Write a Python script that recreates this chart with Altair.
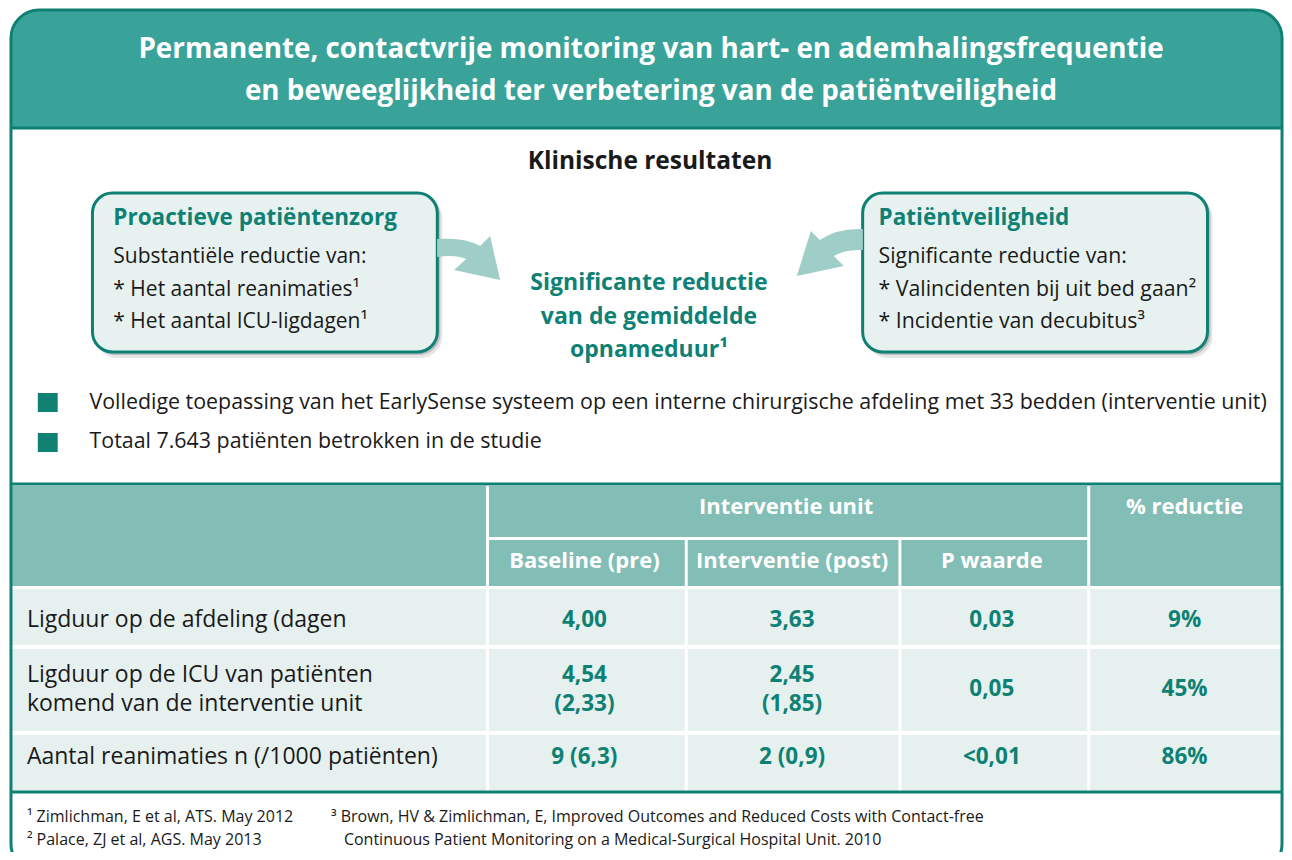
import altair as alt
import pandas as pd

# ---------------- content ----------------
TITLE_LINES = ["Permanente, contactvrije monitoring van hart- en ademhalingsfrequentie",
               "en beweeglijkheid ter verbetering van de patiëntveiligheid"]
SECTION = "Klinische resultaten"
LEFT_HEAD = "Proactieve patiëntenzorg"
LEFT_BODY = ["Substantiële reductie van:", "* Het aantal reanimaties¹", "* Het aantal ICU-ligdagen¹"]
RIGHT_HEAD = "Patiëntveiligheid"
RIGHT_BODY = ["Significante reductie van:", "* Valincidenten bij uit bed gaan²", "* Incidentie van decubitus³"]
CENTER_LINES = ["Significante reductie", "van  de gemiddelde", "opnameduur¹"]
BULLETS = ["Volledige toepassing van het EarlySense systeem op een interne chirurgische afdeling met 33 bedden (interventie unit)",
           "Totaal 7.643 patiënten betrokken in de studie"]
HEAD_TOP = ["Interventie unit", "% reductie"]
HEAD_SUB = ["Baseline (pre)", "Interventie (post)", "P waarde"]
ROW_LABELS = [["Ligduur op de afdeling (dagen"],
              ["Ligduur op de ICU  van patiënten", "komend van de interventie unit"],
              ["Aantal reanimaties n (/1000 patiënten)"]]
BASELINE = [["4,00"], ["4,54", "(2,33)"], ["9 (6,3)"]]
POST = [["3,63"], ["2,45", "(1,85)"], ["2 (0,9)"]]
PVALUE = [["0,03"], ["0,05"], ["<0,01"]]
REDUCTIE = [["9%"], ["45%"], ["86%"]]
FOOTNOTES_LEFT = ["¹ Zimlichman, E et al, ATS. May 2012", "² Palace, ZJ et al, AGS. May 2013"]
FOOTNOTES_RIGHT = ["³ Brown, HV & Zimlichman, E, Improved Outcomes and Reduced Costs with Contact-free",
                   "Continuous Patient Monitoring on a Medical-Surgical Hospital Unit. 2010"]

# ---------------- styles / layout ----------------
FONT = "Open Sans"
TEAL_DARK = "#0e8174"
TEAL_HEAD = "#3aa399"
TEAL_TABLE = "#82bdb6"
CELL_BG = "#e6f1ef"
BOX_BG = "#e7f2f0"
ARROW = "#9ecec7"
BLACK = "#1a1a1a"

# reference pixel coordinates (page margin is 8 px)
XS = alt.Scale(domain=[8, 1292], nice=False, zero=False)
YS = alt.Scale(domain=[8, 852], nice=False, zero=False, reverse=True)


def rect_layer(df, **kw):
    return alt.Chart(df).mark_rect(**kw).encode(
        x=alt.X("x:Q", scale=XS, axis=None), x2="x2:Q",
        y=alt.Y("y:Q", scale=YS, axis=None), y2="y2:Q",
        fill=alt.Fill("fill:N", scale=None),
    )


def text_layer(df, weight="normal", align="left"):
    return alt.Chart(df).mark_text(font=FONT, fontWeight=weight, align=align, baseline="middle").encode(
        x=alt.X("x:Q", scale=XS, axis=None),
        y=alt.Y("y:Q", scale=YS, axis=None),
        text="text:N",
        size=alt.Size("size:Q", scale=None),
        color=alt.Color("color:N", scale=None),
    )


def rule_layer(df, color, width):
    return alt.Chart(df).mark_rule(color=color, strokeWidth=width).encode(
        x=alt.X("x:Q", scale=XS, axis=None), x2="x2:Q",
        y=alt.Y("y:Q", scale=YS, axis=None),
    )


def arrow_path(pts, cx, cy, s):
    """Build a normalized custom SVG symbol path from an outline."""
    out = []
    for cmd, coords in pts:
        nums = [f"{(px - cx) / s:.3f},{(py - cy) / s:.3f}" for (px, py) in coords]
        out.append(cmd + " ".join(nums))
    return "".join(out) + "Z"


# ---------- background shapes ----------
white_bg = pd.DataFrame([dict(x=11, x2=1290, y=10, y2=872, fill="white")])
header_band = pd.DataFrame([dict(x=11, x2=1290, y=10, y2=128, fill=TEAL_HEAD)])

shadow_outer = pd.DataFrame([
    dict(x=96, x2=445, y=196, y2=358, fill="#000000"),
    dict(x=871, x2=1220, y=196, y2=358, fill="#000000"),
])
shadow_inner = pd.DataFrame([
    dict(x=95, x2=443, y=195, y2=355, fill="#000000"),
    dict(x=870, x2=1218, y=195, y2=355, fill="#000000"),
])
boxes = pd.DataFrame([
    dict(x=93, x2=440, y=193, y2=352, fill=BOX_BG),
    dict(x=868, x2=1215, y=193, y2=352, fill=BOX_BG),
])
bullets_sq = pd.DataFrame([
    dict(x=38, x2=58, y=393, y2=412, fill=TEAL_DARK),
    dict(x=38, x2=58, y=433, y2=452, fill=TEAL_DARK),
])

# table cells
COL_EDGES = [(12, 489), (492, 689), (692, 904), (907, 1094), (1097, 1289)]
ROW_EDGES = [(589, 645), (649, 731), (735, 791)]
cells = [
    dict(x=12, x2=489, y=486, y2=586, fill=TEAL_TABLE),
    dict(x=492, x2=1094, y=486, y2=537, fill=TEAL_TABLE),
    dict(x=1097, x2=1289, y=486, y2=586, fill=TEAL_TABLE),
]
for (a, b) in COL_EDGES[1:4]:
    cells.append(dict(x=a, x2=b, y=540, y2=586, fill=TEAL_TABLE))
for (r0, r1) in ROW_EDGES:
    for (a, b) in COL_EDGES:
        cells.append(dict(x=a, x2=b, y=r0, y2=r1, fill=CELL_BG))
cells = pd.DataFrame(cells)

teal_lines = pd.DataFrame([
    dict(x=11, x2=1290, y=128),
    dict(x=11, x2=1290, y=484),
    dict(x=11, x2=1290, y=792),
])

frame = pd.DataFrame([dict(x=11, x2=1290, y=10, y2=872, fill="white")])

# ---------- arrows (custom symbol glyphs) ----------
LEFT_ARROW = [("M", [(440, 239)]), ("Q", [(468, 237), (483, 246)]), ("L", [(493, 236)]),
              ("L", [(503, 280)]), ("L", [(457, 270)]), ("L", [(469, 259)]),
              ("Q", [(458, 254), (440, 257)])]
RIGHT_ARROW = [("M", [(868, 229)]), ("Q", [(842, 228), (825, 240)]), ("L", [(816, 231)]),
               ("L", [(802, 276)]), ("L", [(849, 266)]), ("L", [(839, 256)]),
               ("Q", [(850, 249), (868, 250)])]
ARROW_S = 40
arrows = []
for pts, cx, cy in [(LEFT_ARROW, 471, 258), (RIGHT_ARROW, 835, 252)]:
    arrows.append(alt.Chart(pd.DataFrame([dict(x=cx, y=cy)])).mark_point(
        shape=arrow_path(pts, cx, cy, ARROW_S), size=(2 * ARROW_S) ** 2,
        filled=True, color=ARROW, opacity=1, strokeWidth=0,
    ).encode(x=alt.X("x:Q", scale=XS, axis=None), y=alt.Y("y:Q", scale=YS, axis=None)))

# ---------- texts ----------
bold_center, bold_left, reg_left = [], [], []

for line, y in zip(TITLE_LINES, [50, 92]):
    bold_center.append(dict(x=655, y=y, text=line, size=27.8, color="white"))
bold_center.append(dict(x=654, y=162, text=SECTION, size=24.5, color=BLACK))
for line, y in zip(CENTER_LINES, [283, 317, 350]):
    bold_center.append(dict(x=653, y=y, text=line, size=23, color=TEAL_DARK))

bold_left.append(dict(x=114, y=218, text=LEFT_HEAD, size=22.5, color=TEAL_DARK))
bold_left.append(dict(x=884, y=218, text=RIGHT_HEAD, size=22.5, color=TEAL_DARK))
for line, y in zip(LEFT_BODY, [257, 290, 322]):
    reg_left.append(dict(x=114, y=y, text=line, size=21, color=BLACK))
for line, y in zip(RIGHT_BODY, [257, 290, 322]):
    reg_left.append(dict(x=884, y=y, text=line, size=21.3, color=BLACK))

for line, y in zip(BULLETS, [403, 442]):
    reg_left.append(dict(x=90, y=y, text=line, size=21.4, color=BLACK))

# table header
bold_center.append(dict(x=791, y=507, text=HEAD_TOP[0], size=22, color="white"))
bold_center.append(dict(x=1192, y=507, text=HEAD_TOP[1], size=22, color="white"))
COL_CENTERS = [588, 797, 998, 1192]
for line, cx in zip(HEAD_SUB, COL_CENTERS[:3]):
    bold_center.append(dict(x=cx, y=561, text=line, size=22, color="white"))

# table body
ROW_CENTERS = [620, 689, 757]
LINE_GAP = 29
for labels, yc in zip(ROW_LABELS, ROW_CENTERS):
    top = yc - (len(labels) - 1) * LINE_GAP / 2
    for i, lab in enumerate(labels):
        reg_left.append(dict(x=27, y=top + LINE_GAP * i, text=lab, size=23, color=BLACK))
for col, cx in zip([BASELINE, POST, PVALUE, REDUCTIE], COL_CENTERS):
    for vals, yc in zip(col, ROW_CENTERS):
        top = yc - (len(vals) - 1) * LINE_GAP / 2
        for i, v in enumerate(vals):
            bold_center.append(dict(x=cx, y=top + LINE_GAP * i, text=v, size=22.5, color=TEAL_DARK))

# footnotes
for line, y in zip(FOOTNOTES_LEFT, [817, 840]):
    reg_left.append(dict(x=27, y=y, text=line, size=16, color=BLACK))
for line, x, y in zip(FOOTNOTES_RIGHT, [333, 346], [817, 840]):
    reg_left.append(dict(x=x, y=y, text=line, size=16, color=BLACK))

layers = [
    rect_layer(white_bg, cornerRadius=28, clip=True),
    rect_layer(header_band, cornerRadiusTopLeft=28, cornerRadiusTopRight=28),
    rect_layer(shadow_outer, cornerRadius=22, opacity=0.10),
    rect_layer(shadow_inner, cornerRadius=21, opacity=0.16),
    rect_layer(boxes, cornerRadius=20, stroke=TEAL_DARK, strokeWidth=3),
    *arrows,
    rect_layer(bullets_sq),
    rect_layer(cells),
    rule_layer(teal_lines, TEAL_DARK, 3),
    rect_layer(frame, cornerRadius=28, clip=True, fillOpacity=0, stroke=TEAL_DARK, strokeWidth=3),
    text_layer(pd.DataFrame(bold_center), weight="bold", align="center"),
    text_layer(pd.DataFrame(bold_left), weight="bold", align="left"),
    text_layer(pd.DataFrame(reg_left), weight="normal", align="left"),
]

chart = alt.layer(*layers).properties(
    width=1276, height=844, padding=0,
    autosize=alt.AutoSizeParams(type="none"),
    background="white",
).configure_view(stroke=None)

chart.save("out.html", embed_options={"renderer": "svg", "actions": False})
